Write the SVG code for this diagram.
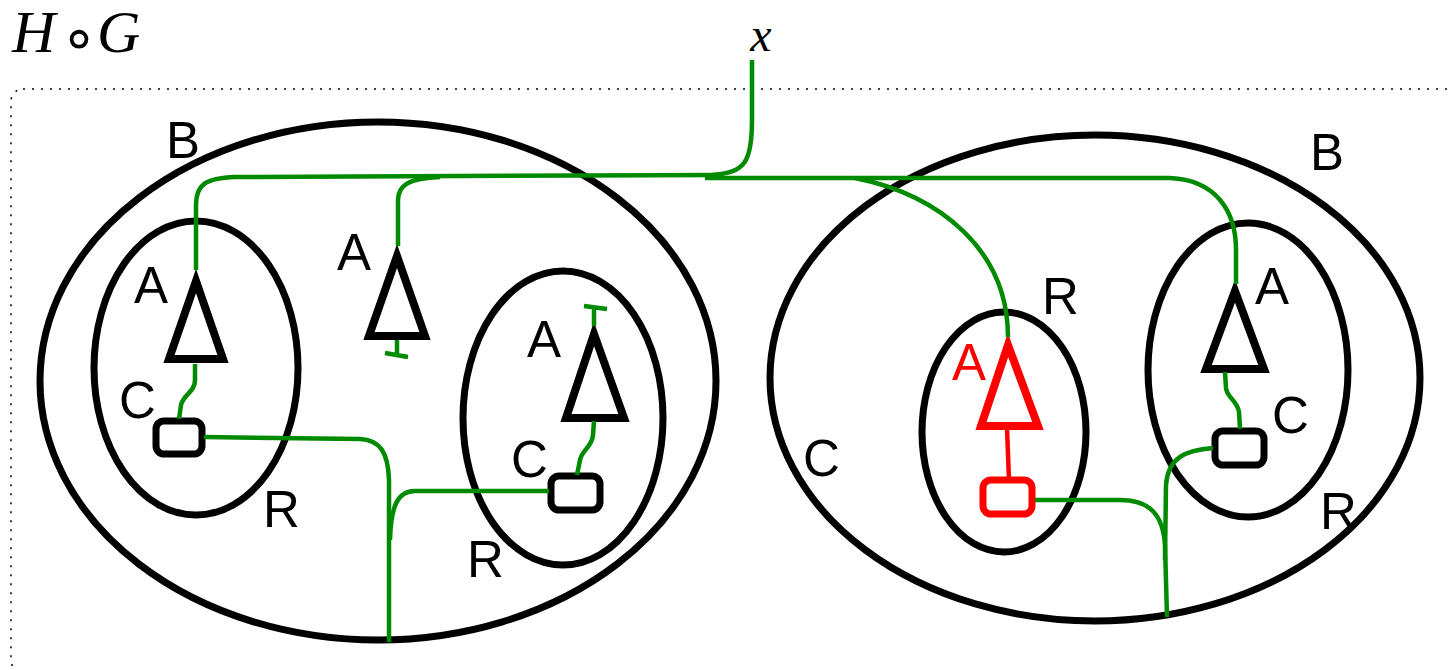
<svg xmlns="http://www.w3.org/2000/svg" width="1452" height="670" viewBox="0 0 1452 670">
<style>
.ell{fill:none;stroke:#000;stroke-width:7}
.tri{fill:none;stroke:#000;stroke-width:8;stroke-linejoin:miter}
.box{fill:none;stroke:#000;stroke-width:7}
.red{stroke:#ff0000}
.w{fill:none;stroke:#008a00;stroke-width:4.5;stroke-linecap:butt}
.rw{fill:none;stroke:#ff0000;stroke-width:4.5}
.lbl{font-family:"Liberation Sans",Arial,sans-serif;font-size:51px;fill:#000}
.math{font-family:"Liberation Serif","DejaVu Serif",serif;font-style:italic;fill:#000}
</style>
<rect width="1452" height="670" fill="#fff"/>
<rect x="11" y="89" width="1470" height="583" rx="12" fill="none" stroke="#000" stroke-width="1.5" stroke-dasharray="2,7"/>
<g id="title">
<text class="math" x="12" y="52" font-size="60">H</text>
<text x="79" y="58" font-family="DejaVu Sans,sans-serif" font-size="60" text-anchor="middle" fill="#000">∘</text>
<text class="math" x="97" y="52" font-size="60">G</text>
</g>
<text class="math" x="761" y="51" font-size="48" text-anchor="middle">x</text>

<g id="B1"><ellipse class="ell" cx="378" cy="381" rx="338" ry="259"/><text class="lbl" x="166" y="158">B</text></g>
<g id="B2"><ellipse class="ell" cx="1095" cy="378" rx="325" ry="243"/><text class="lbl" x="1310" y="170">B</text><text class="lbl" x="803" y="476">C</text></g>

<g id="R1"><ellipse class="ell" cx="196" cy="368" rx="102" ry="147"/><text class="lbl" x="263" y="527">R</text></g>
<g id="R2"><ellipse class="ell" cx="563" cy="418" rx="100" ry="147"/><text class="lbl" x="467" y="577">R</text></g>
<g id="R3"><ellipse class="ell" cx="1004" cy="432" rx="82" ry="120"/><text class="lbl" x="1042" y="314">R</text></g>
<g id="R4"><ellipse class="ell" cx="1248" cy="370" rx="100" ry="147"/><text class="lbl" x="1320" y="529">R</text></g>

<g id="A1"><polygon class="tri" points="196,281 169,359 223,359"/><text class="lbl" x="134" y="303">A</text></g>
<g id="A2"><polygon class="tri" points="397,256 369,336 425,336"/><text class="lbl" x="337" y="270">A</text></g>
<g id="A3"><polygon class="tri" points="594,334 566,418 624,418"/><text class="lbl" x="527" y="357">A</text></g>
<g id="A4"><polygon class="tri red" points="1008,345 981,426 1038,426"/><text class="lbl" x="952" y="380" style="fill:#ff0000">A</text></g>
<g id="A5"><polygon class="tri" points="1235,291 1206,369 1264,369"/><text class="lbl" x="1255" y="304">A</text></g>

<g id="C1"><rect class="box" x="156" y="421" width="46" height="33" rx="8"/><text class="lbl" x="119" y="418">C</text></g>
<g id="C2"><rect class="box" x="551" y="476" width="49" height="34" rx="8"/><text class="lbl" x="511" y="477">C</text></g>
<g id="C3"><rect class="box red" x="983" y="480" width="49" height="34" rx="8"/></g>
<g id="C4"><rect class="box" x="1215" y="431" width="49" height="34" rx="8"/><text class="lbl" x="1272" y="433">C</text></g>

<g id="connectors">
<path class="w" d="M752,60 L752,120 C752,162 745,173 712,175"/>
<path class="w" d="M196,270 L196,205 C196,185 205,178 235,177 L720,175"/>
<path class="w" d="M398,246 L398,200 C398,186 408,178 440,177"/>
<path class="w" d="M705,178 L1170,178 C1215,180 1236,210 1236,250 L1236,284"/>
<path class="w" d="M855,178 C940,195 1008,250 1008,337"/>
<path class="w" d="M397,340 L397,354 M385,353 L408,357"/>
<path class="w" d="M594,326 L594,307 M584,306 L607,309"/>
<path class="w" d="M195,364 L195,380 C195,392 183,395 181,405 L179,419"/>
<path class="w" d="M594,421 L593,435 C592,447 582,450 580,460 L577,475"/>
<path class="w" d="M1225,372 L1226,388 C1227,398 1237,400 1239,412 L1240,429"/>
<path class="rw" d="M1007,428 L1009,480"/>
<path class="w" d="M204,437 L360,439 C380,440 388,452 389,480 L389,642"/>
<path class="w" d="M549,491 L415,491 C398,491 391,505 390,540"/>
<path class="w" d="M1035,500 L1120,500 C1150,500 1163,515 1165,545 L1167,617"/>
<path class="w" d="M1213,448 C1185,450 1168,458 1166,485 L1165,560"/>
</g>
</svg>
